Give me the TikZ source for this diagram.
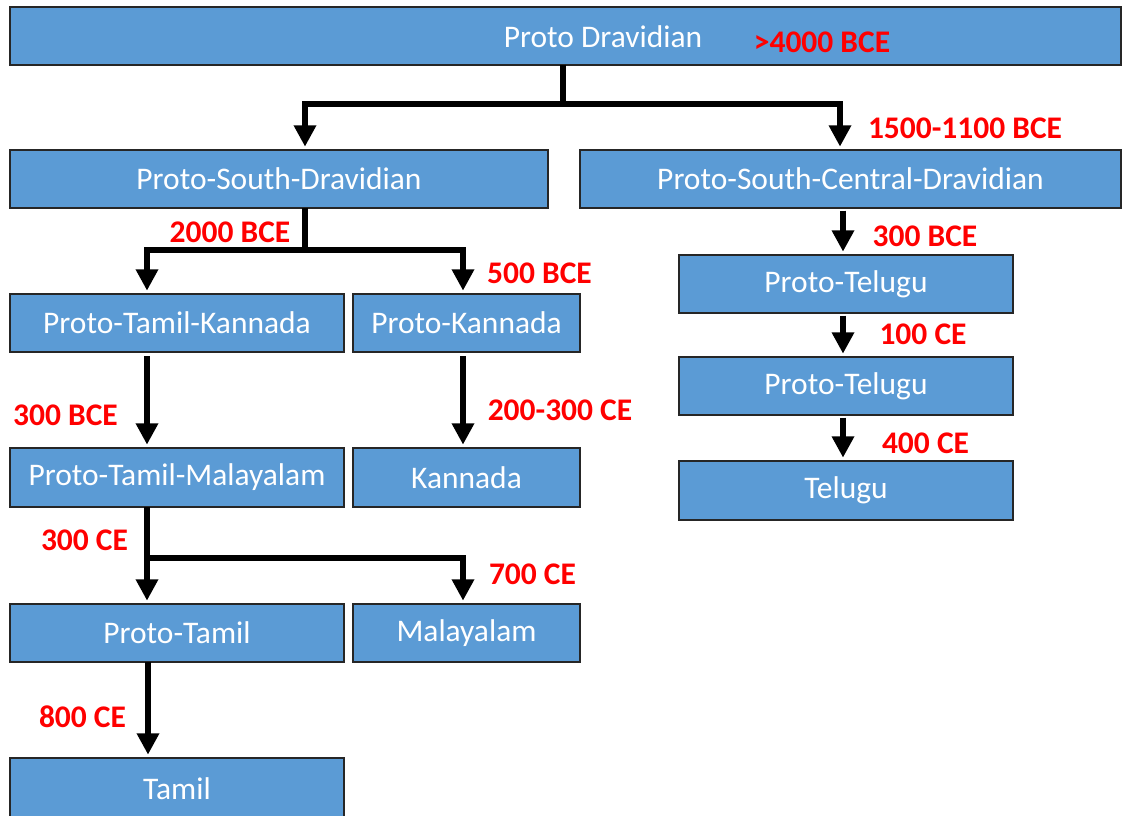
\documentclass[tikz,border=0pt]{standalone}
\usepackage{fontspec}
\setmainfont{Carlito}
\usetikzlibrary{arrows.meta,calc}
\definecolor{boxblue}{HTML}{5B9BD5}
\definecolor{labred}{HTML}{FF0000}
\newcommand\bx[6]{\node[box, minimum width={(#4-#2)*0.75pt}, minimum height={(#5-#3)*0.75pt}] (#1) at ({(#2+#4)/2},{(#3+#5)/2}) {#6};}
\begin{document}
\begin{tikzpicture}[x=0.75pt,y=-0.75pt,
  box/.style={draw=black!85, line width=1.1pt, fill=boxblue, text=white, inner sep=0pt, outer sep=0pt, font=\fontsize{23.6}{28}\selectfont},
  boxtext/.style={text=white, inner sep=0pt, font=\fontsize{23.6}{28}\selectfont},
  conn/.style={line width=4pt, line join=miter, -{Triangle[length=16pt,width=16pt]}, shorten >=2.5pt},
  lab/.style={text=labred, inner sep=0pt, font=\bfseries\fontsize{23.6}{28}\selectfont}]
\useasboundingbox (0,0) rectangle (1123,816);
% boxes
\bx{top}{10}{7}{1121}{65}{}
\node[boxtext] (toptext) at (603,37) {Proto Dravidian};
\bx{psd}{10}{150}{548}{208}{Proto-South-Dravidian}
\bx{pscd}{580}{150}{1121}{208}{Proto-South-Central-Dravidian}
\bx{ptk}{10}{294}{344}{352}{Proto-Tamil-Kannada}
\bx{pk}{353}{294}{580}{352}{Proto-Kannada}
\bx{ptm}{10}{448}{344}{507}{Proto-Tamil-Malayalam}
\bx{kan}{353}{448}{580}{507}{Kannada}
\bx{pt}{10}{604}{344}{662}{Proto-Tamil}
\bx{mal}{353}{604}{580}{662}{Malayalam}
\bx{tam}{10}{758}{344}{820}{Tamil}
\bx{ptel}{679}{255}{1013}{313}{Proto-Telugu}
\bx{ptelb}{679}{357}{1013}{415}{Proto-Telugu}
\bx{tel}{679}{461}{1013}{520}{Telugu}
% column coordinates
\coordinate (x1) at (563,0);
\coordinate (xa) at (305,0);
\coordinate (xb) at (840,0);
\coordinate (xc) at (147,0);
\coordinate (xd) at (463,0);
\coordinate (xe) at (843,0);
\coordinate (j1) at (563,104);
\coordinate (j2) at (305,250);
\coordinate (j3) at (147,558);
% connectors
\draw[conn] (top.south -| x1) -- (j1) -| (psd.north -| xa);
\draw[conn] (top.south -| x1) -- (j1) -| (pscd.north -| xb);
\draw[conn] (psd.south -| xa) -- (j2) -| (ptk.north -| xc);
\draw[conn] (psd.south -| xa) -- (j2) -| (pk.north -| xd);
\draw[conn, shorten <=3pt] (ptk.south -| xc) -- (ptm.north -| xc);
\draw[conn, shorten <=3pt] (pk.south -| xd) -- (kan.north -| xd);
\draw[conn] (ptm.south -| xc) -- (pt.north -| xc);
\draw[conn] (ptm.south -| xc) -- (j3) -| (mal.north -| xd);
\draw[conn] ([xshift=0.75pt]pt.south -| xc) -- ([xshift=0.75pt]tam.north -| xc);
\draw[conn, shorten <=2pt] (pscd.south -| xe) -- (ptel.north -| xe);
\draw[conn, shorten <=2pt] (ptel.south -| xe) -- (ptelb.north -| xe);
\draw[conn, shorten <=2pt] (ptelb.south -| xe) -- (tel.north -| xe);
% labels
\node[lab] (l1) at (822,42) {>4000 BCE};
\node[lab] (l2) at (965,128) {1500-1100 BCE};
\node[lab] (l3) at (230,232) {2000 BCE};
\node[lab] (l4) at (539.5,273) {500 BCE};
\node[lab] (l5) at (65.5,415) {300 BCE};
\node[lab] (l6) at (560,410) {200-300 CE};
\node[lab] (l7) at (84.5,540) {300 CE};
\node[lab] (l8) at (532.5,574) {700 CE};
\node[lab] (l9) at (82.5,717) {800 CE};
\node[lab] (l10) at (925,236) {300 BCE};
\node[lab] (l11) at (923,334) {100 CE};
\node[lab] (l12) at (925.5,443) {400 CE};
\end{tikzpicture}
\end{document}
